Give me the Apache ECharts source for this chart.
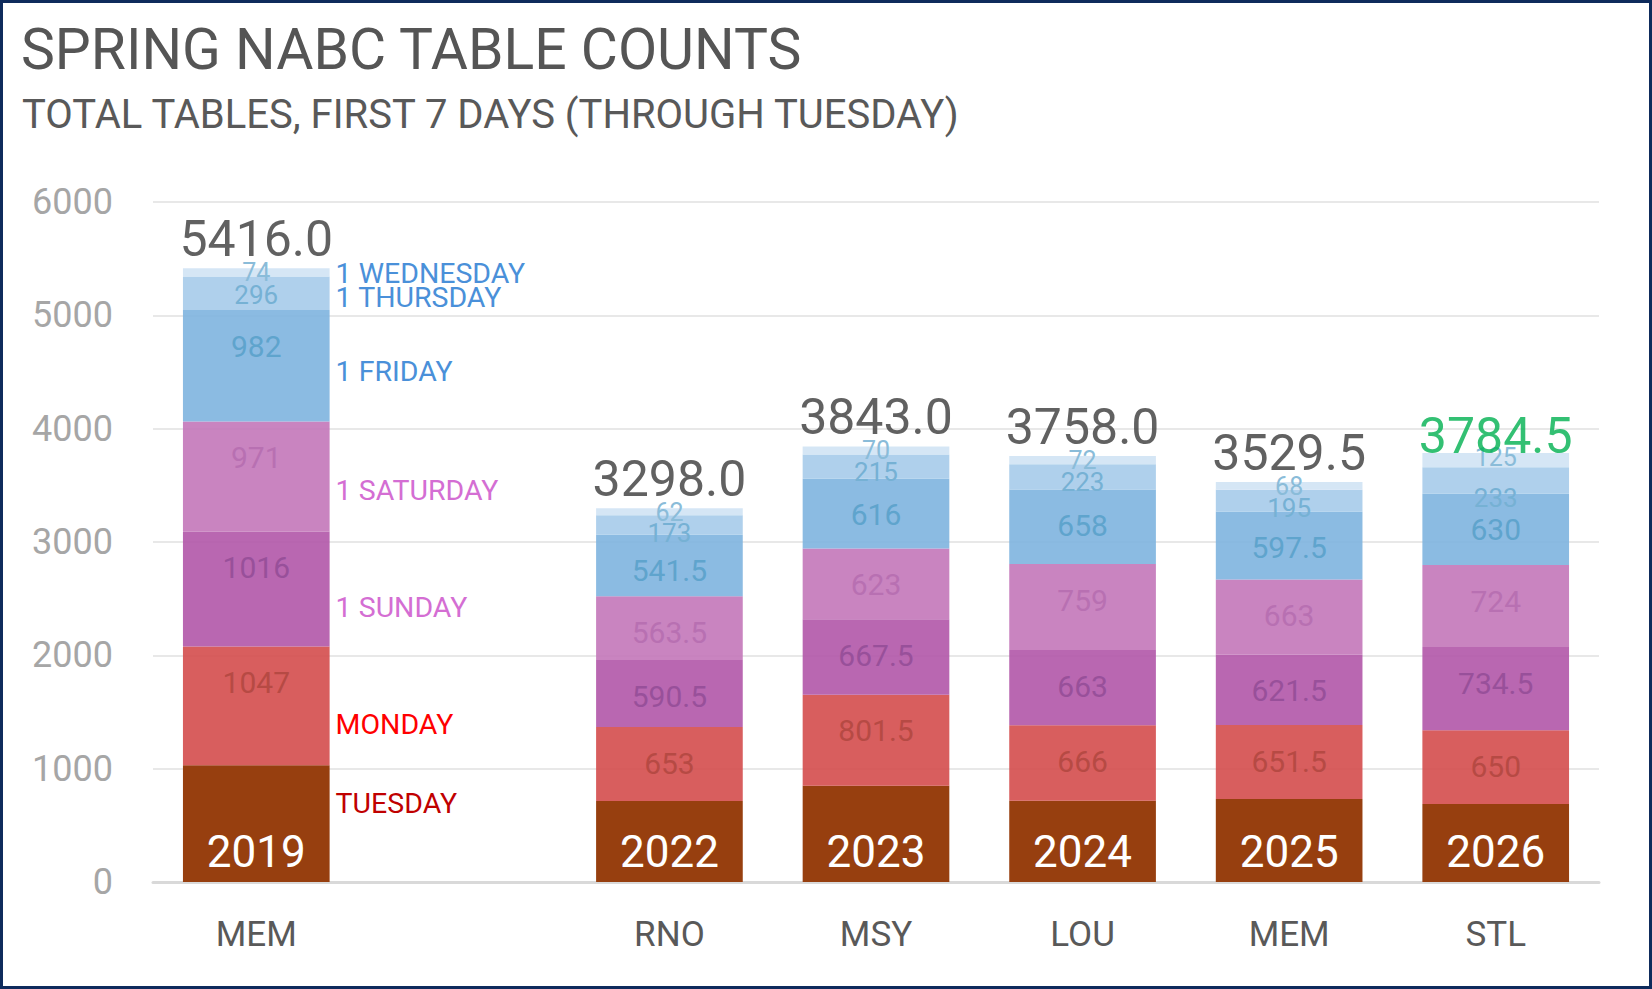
<!DOCTYPE html>
<html>
<head>
<meta charset="utf-8">
<title>Spring NABC table counts</title>
<script src="https://cdn.jsdelivr.net/npm/echarts@6/dist/echarts.min.js"></script>
<style>
    html, body { margin: 0; padding: 0; background: #fff; }
    #wrap { position: relative; width: 1652px; height: 989px; }
    #charts { width: 1652px; height: 989px; }
    #frame {
        position: absolute; left: 0; top: 0; width: 1652px; height: 989px;
        box-sizing: border-box; border: 3px solid #0e2b5c; pointer-events: none;
    }
</style>
</head>
<body>
<div id="wrap">
    <div id="charts"></div>
    <div id="frame"></div>
</div>
<script>
// tournament sites (empty slot = no spring NABC in 2020/2021)
var categories = ['MEM', '', 'RNO', 'MSY', 'LOU', 'MEM', 'STL'];
var years = ['2019', '', '2022', '2023', '2024', '2025', '2026'];

// tables per day, bottom of the stack first
var tuesday   = [1030, '-', 714.5, 850, 717, 733, 688];
var monday    = [1047, '-', 653, 801.5, 666, 651.5, 650];
var sunday    = [1016, '-', 590.5, 667.5, 663, 621.5, 734.5];
var saturday  = [971, '-', 563.5, 623, 759, 663, 724];
var friday    = [982, '-', 541.5, 616, 658, 597.5, 630];
var thursday  = [296, '-', 173, 215, 223, 195, 233];
var wednesday = [74, '-', 62, 70, 72, 68, 125];

var totals = [5416.0, '-', 3298.0, 3843.0, 3758.0, 3529.5, 3784.5];

var yTicks = [0, 1000, 2000, 3000, 4000, 5000, 6000];

var FONT = 'Roboto';

window.onload = function () {
    staticChart();
};

function staticChart() {
    var myChart = echarts.init(document.getElementById('charts'), null, {renderer: 'svg'});

    // one entry per day: data, bar colour, value label colour, name label colour, label tweaks
    var days = [
        {name: 'TUESDAY',      data: tuesday,   color: '#973f0f',               text: '#ffffff', nameColor: '#c00000', nameOff: -20},
        {name: 'MONDAY',       data: monday,    color: 'rgba(212,76,76,0.9)',   text: '#b64a44', nameColor: '#ff0000', nameOff: 19, dist: 21, size: 30},
        {name: '1 SUNDAY',     data: sunday,    color: 'rgba(177,87,169,0.9)',  text: '#98509a', nameColor: '#d46ed3', nameOff: 18, dist: 21, size: 30},
        {name: '1 SATURDAY',   data: saturday,  color: 'rgba(195,119,185,0.9)', text: '#b870b2', nameColor: '#d46ed3', nameOff: 14, dist: 21, size: 30},
        {name: '1 FRIDAY',     data: friday,    color: 'rgba(126,180,223,0.9)', text: '#5fa4cd', nameColor: '#4a90d9', nameOff: 6, dist: 21, size: 30},
        {name: '1 THURSDAY',   data: thursday,  color: 'rgba(166,203,234,0.9)', text: '#76b1d4', nameColor: '#4a90d9', nameOff: 4, dist: 5, size: 26, lastOff: 13},
        {name: '1 WEDNESDAY',  data: wednesday, color: 'rgba(208,227,244,0.9)', text: '#8abcd9', nameColor: '#4a90d9', nameOff: 1, dist: 0, off: -8, size: 25}
    ];

    var series = [];
    days.forEach(function (d, k) {
        var label;
        if (k === 0) {
            label = {
                show: true,
                position: 'insideBottom',
                distance: 8,
                color: d.text,
                fontSize: 44,
                fontFamily: FONT,
                formatter: function (p) { return years[p.dataIndex]; }
            };
        } else {
            label = {
                show: true,
                position: 'insideTop',
                distance: d.dist,
                offset: [0, d.off || 0],
                color: d.text,
                fontSize: d.size,
                fontFamily: FONT
            };
        }
        var data = d.data;
        if (d.lastOff) {
            // the latest label sits a little lower in the original
            data = d.data.map(function (v, i) {
                return i === d.data.length - 1 ? {value: v, label: {offset: [0, d.lastOff]}} : v;
            });
        }
        series.push({
            name: d.name,
            type: 'bar',
            stack: 'total',
            barWidth: '71%',
            barGap: '-100%',
            data: data,
            itemStyle: {color: d.color},
            label: label,
            z: 2
        });
    });

    // invisible copy of the first bar, only to hang the day names on its right side
    days.forEach(function (d) {
        series.push({
            name: d.name,
            type: 'bar',
            stack: 'names',
            barWidth: '71%',
            barGap: '-100%',
            silent: true,
            data: d.data.map(function (v, i) { return i === 0 ? v : '-'; }),
            itemStyle: {color: 'rgba(0,0,0,0)'},
            label: {
                show: true,
                position: 'right',
                distance: 6,
                offset: [0, d.nameOff],
                formatter: '{a}',
                color: d.nameColor,
                fontSize: 28.5,
                fontFamily: FONT
            },
            z: 3
        });
    });

    // totals above the stacks, latest year in green
    series.push({
        name: 'total',
        type: 'scatter',
        symbolSize: 0,
        silent: true,
        data: totals.map(function (v, i) {
            var item = {value: v};
            if (i === totals.length - 1) {
                item.label = {color: '#00b050', offset: [0, 12]};
            }
            return item;
        }),
        label: {
            show: true,
            position: 'top',
            distance: 4,
            color: '#3a3a3a',
            fontSize: 50,
            fontFamily: FONT,
            formatter: function (p) { return Number(p.value).toFixed(1); }
        },
        z: 5
    });

    var option = {
        animation: false,
        backgroundColor: '#ffffff',
        textStyle: {fontFamily: FONT},
        title: [{
            text: 'SPRING NABC TABLE COUNTS',
            left: 21,
            top: 21,
            padding: 0,
            textStyle: {color: '#555555', fontSize: 57, fontWeight: 'normal', fontFamily: FONT}
        }, {
            text: 'TOTAL TABLES, FIRST 7 DAYS (THROUGH TUESDAY)',
            left: 22,
            top: 94,
            padding: 0,
            textStyle: {color: '#595959', fontSize: 40, fontWeight: 'normal', fontFamily: FONT}
        }],
        grid: {left: 153, right: 53, top: 202, bottom: 107},
        xAxis: {
            type: 'category',
            data: categories,
            axisTick: {show: false},
            axisLine: {//轴线
                lineStyle: {color: '#d9d9d9', width: 3}
            },
            axisLabel: {
                color: '#595959',
                fontSize: 35,
                margin: 35,
                fontFamily: FONT
            },
            splitLine: {show: false}
        },
        yAxis: {
            type: 'value',
            min: yTicks[0],
            max: yTicks[yTicks.length - 1],
            interval: yTicks[1] - yTicks[0],
            axisLine: {show: false},
            axisTick: {show: false},
            axisLabel: {
                color: '#a6a6a6',
                fontSize: 36,
                margin: 40,
                fontFamily: FONT,
                formatter: function (v) { return String(v); }
            },
            splitLine: {
                lineStyle: {color: '#e8e8e8', width: 2}
            }
        },
        series: series
    };

    myChart.setOption(option);
    window.addEventListener('resize', function () { myChart.resize(); });
}
</script>
</body>
</html>
